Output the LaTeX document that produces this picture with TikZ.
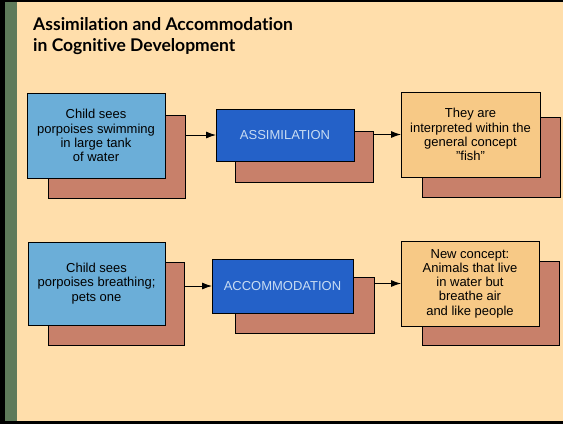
\documentclass[tikz,border=0pt]{standalone}
\usepackage{fontspec}
\setmainfont{Liberation Sans}
\newfontfamily\titlefont[Ligatures=NoCommon]{Lato}
\usetikzlibrary{arrows.meta}
\definecolor{page}{HTML}{FFDEAB}
\definecolor{strip}{HTML}{5E7A5A}
\definecolor{paleblue}{HTML}{6BAED8}
\definecolor{deepblue}{HTML}{2461C8}
\definecolor{deeptext}{HTML}{C8DCF2}
\definecolor{clay}{HTML}{C8806A}
\definecolor{sand}{HTML}{F7C986}
\tikzset{
  card/.style={draw=black,line width=0.8pt,inner sep=0pt,outer sep=0pt,align=center,
    font=\fontsize{13}{14.2}\selectfont},
  seebox/.style={card,fill=paleblue,text=black},
  stagebox/.style={card,fill=deepblue,text=deeptext},
  resultbox/.style={card,fill=sand,text=black},
  backcard/.style={draw=black,line width=0.8pt,fill=clay,inner sep=0pt,outer sep=0pt},
  flow/.style={-{Latex[length=10pt,width=7pt]},line width=0.9pt,black}
}
\begin{document}
\begin{tikzpicture}[x=1pt,y=-1pt]
    \useasboundingbox (0,0) rectangle (563,424);
    \fill[black] (0,0) rectangle (563,424);
    \fill[strip] (5,2) rectangle (17,421);
    \fill[page] (17,2) rectangle (563,421);
    \node[anchor=north west,align=left,inner sep=0pt,font=\titlefont\bfseries\fontsize{17.5}{21.5}\selectfont] (title) at (33,17) {Assimilation and Accommodation\\in Cognitive Development};
    % first row
    \node[backcard,minimum width=137pt,minimum height=83pt] (see1back) at (116.5,156.5) {};
    \node[seebox,minimum width=138pt,minimum height=85pt] (see1) at (96,135.5) {Child sees\\porpoises swimming\\in large tank\\of water};
    \node[backcard,minimum width=138pt,minimum height=51pt] (assimback) at (304,156.5) {};
    \node[stagebox,minimum width=138pt,minimum height=52pt] (assim) at (285,135) {ASSIMILATION};
    \node[backcard,minimum width=138pt,minimum height=80pt] (fishback) at (491,157) {};
    \node[resultbox,minimum width=139pt,minimum height=85pt] (fish) at (470.5,134.5) {They are\\interpreted within the\\general concept\\"fish"};
    \draw[flow] (see1back.east |- assim.west) -- (assim.west);
    \draw[flow] (assimback.east |- fish.west) -- (fish.west);
    % second row
    \node[backcard,minimum width=136pt,minimum height=83pt] (see2back) at (116,303.5) {};
    \node[seebox,minimum width=137pt,minimum height=83pt] (see2) at (96.5,283.5) {Child sees\\porpoises breathing;\\pets one};
    \node[backcard,minimum width=139pt,minimum height=56pt] (accomback) at (304.5,305) {};
    \node[stagebox,minimum width=141pt,minimum height=54pt] (accom) at (282.5,286) {ACCOMMODATION};
    \node[backcard,minimum width=137pt,minimum height=84pt] (conceptback) at (490.5,303) {};
    \node[resultbox,minimum width=138pt,minimum height=85pt] (concept) at (470,283.5) {New concept:\\Animals that live\\in water but\\breathe air\\and like people};
    \draw[flow] (see2back.east |- accom.west) -- (accom.west);
    \draw[flow] (accomback.east |- concept.west) -- (concept.west);
  \end{tikzpicture}
\end{document}
